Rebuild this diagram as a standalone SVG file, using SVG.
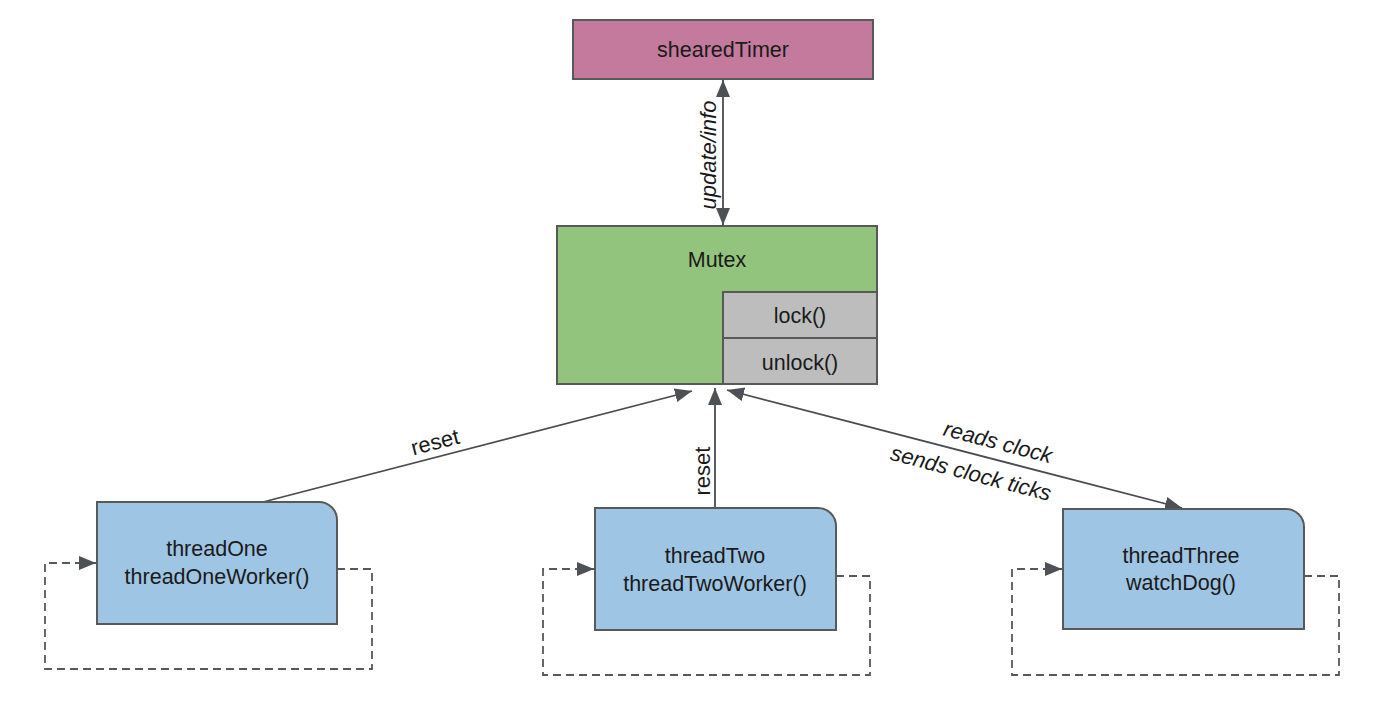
<svg xmlns="http://www.w3.org/2000/svg" width="1400" height="714" viewBox="0 0 1400 714">
  <defs>
    <marker id="arrow" markerUnits="userSpaceOnUse" markerWidth="19" markerHeight="16" refX="17" refY="7" orient="auto-start-reverse">
      <path d="M0,0 L17,7 L0,14 z" fill="#4d5055"/>
    </marker>
    <style>
      text { font-family: "Liberation Sans", Arial, sans-serif; fill: #1a1a1a; }
      .node-text { font-size: 21.5px; text-anchor: middle; }
      .label { font-size: 22px; text-anchor: middle; dominant-baseline: central; }
      .italic { font-style: italic; }
      .box { stroke: #595959; stroke-width: 2; }
      .timer { fill: #c47a9c; }
      .mutex { fill: #93c47d; }
      .method { fill: #bdbdbd; }
      .thread { fill: #9fc5e4; }
      .conn { fill: none; stroke: #4a4c50; stroke-width: 1.8; }
      .loop { fill: none; stroke: #55585c; stroke-width: 1.8; stroke-dasharray: 8 5; }
    </style>
  </defs>
  <rect width="1400" height="714" fill="#ffffff"/>

  <!-- connectors -->
  <g id="connectors">
    <line class="conn" x1="723" y1="80" x2="723" y2="225" marker-start="url(#arrow)" marker-end="url(#arrow)"/>
    <line class="conn" x1="263" y1="502" x2="692" y2="391" marker-end="url(#arrow)"/>
    <line class="conn" x1="715" y1="507" x2="715" y2="388" marker-end="url(#arrow)"/>
    <line class="conn" x1="727" y1="390" x2="1182" y2="508" marker-start="url(#arrow)" marker-end="url(#arrow)"/>
    <path class="loop" d="M337,569 H372 V669 H45 V563 H96" marker-end="url(#arrow)"/>
    <path class="loop" d="M836,576 H870 V675 H543 V569 H594" marker-end="url(#arrow)"/>
    <path class="loop" d="M1304,576 H1339 V675 H1012 V569 H1062" marker-end="url(#arrow)"/>

    <text class="label italic" transform="translate(708,155) rotate(-90)">update/info</text>
    <text class="label" transform="translate(435,442) rotate(-14.6)">reset</text>
    <text class="label" transform="translate(702,471) rotate(-90)">reset</text>
    <text class="label italic" transform="translate(998,442) rotate(14.6)">reads clock</text>
    <text class="label italic" transform="translate(971,473) rotate(14.6)">sends clock ticks</text>
  </g>

  <!-- shared timer -->
  <g id="shearedTimer">
    <rect class="box timer" x="573" y="20" width="300" height="59"/>
    <text class="node-text" x="723" y="57">shearedTimer</text>
  </g>

  <!-- mutex with its methods -->
  <g id="mutex">
    <rect class="box mutex" x="557" y="226" width="320" height="158"/>
    <text class="node-text" x="717" y="267">Mutex</text>
  </g>
  <g id="lock">
    <rect class="box method" x="723" y="292" width="154" height="46"/>
    <text class="node-text" x="800" y="323">lock()</text>
  </g>
  <g id="unlock">
    <rect class="box method" x="723" y="338" width="154" height="46"/>
    <text class="node-text" x="800" y="370">unlock()</text>
  </g>

  <!-- worker threads -->
  <g id="threadOne">
    <path class="box thread" d="M97,502 H319 A18,18 0 0 1 337,520 V624 H97 Z"/>
    <text class="node-text" x="217" y="556">threadOne</text>
    <text class="node-text" x="217" y="584">threadOneWorker()</text>
  </g>
  <g id="threadTwo">
    <path class="box thread" d="M595,508 H818 A18,18 0 0 1 836,526 V630 H595 Z"/>
    <text class="node-text" x="715" y="563">threadTwo</text>
    <text class="node-text" x="715" y="591">threadTwoWorker()</text>
  </g>
  <g id="threadThree">
    <path class="box thread" d="M1063,509 H1286 A18,18 0 0 1 1304,527 V629 H1063 Z"/>
    <text class="node-text" x="1181" y="563">threadThree</text>
    <text class="node-text" x="1181" y="590">watchDog()</text>
  </g>
</svg>
